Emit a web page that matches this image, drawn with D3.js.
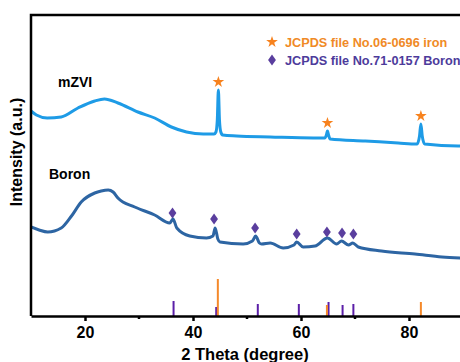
<!DOCTYPE html>
<html>
<head>
<meta charset="utf-8">
<script src="https://cdn.jsdelivr.net/npm/d3@7"></script>
<style>
    body { margin: 0; background: #fff; }
    text { font-family: Arial, "Liberation Sans", sans-serif; font-weight: bold; }
</style>
</head>
<body>
<svg id="chart" width="460" height="362"></svg>
<script>
// 2 theta (degree), intensity (a.u.)
const mzviTheta = [10, 11, 13, 15.6, 18.7, 21.8, 23.6, 26.1, 29.8, 32.9, 36, 38.8, 41.9, 43.9, 44.25, 44.5, 44.7, 44.9, 45.15, 45.5,
    48.1, 54.3, 62.3, 64.4, 64.7, 64.9, 65.1, 65.4, 71.9, 78, 81.5, 81.95, 82.2, 82.45, 82.9, 89.1, 90];
const mzviInt = [205, 201, 198, 199, 208, 215, 217, 213, 204, 198, 189, 184, 182, 182, 184, 196, 226, 196, 184, 181,
    180, 179, 178, 178, 181, 185, 181, 177, 175, 173, 172, 180, 192, 180, 172, 170, 170];

const boronTheta = [10, 11.5, 13.1, 15.6, 17.5, 19.3, 21.8, 23, 24.3, 25.2, 26.1, 29.2, 32.9, 35.7, 36.3, 37, 39.4, 42.5, 43.7, 44.1, 44.6, 45,
    49.3, 51, 51.6, 52.3, 52.7, 54.3, 56.7, 58.7, 59.2, 60.4, 62.6, 64.9, 66.6, 67.5, 68.8, 69.6, 70.6, 74.9, 81.1, 86.1, 90];
const boronInt = [89, 86, 84, 88, 100, 114, 123, 125, 126, 124, 118, 109, 101, 93, 97, 88, 80, 78, 80, 88, 77, 74,
    72, 75, 80, 73, 72, 73, 68, 71, 74, 69, 70, 78, 72, 75, 71, 73, 69, 65, 62, 59, 58];

// marker positions
const starTheta = [44.7, 64.9, 82.2];
const starInt = [234, 193, 200];
const diamondTheta = [36.2, 43.9, 51.5, 59.2, 64.8, 67.6, 69.7];
const diamondInt = [103, 97, 88, 82, 84, 83, 82];

// reference sticks
const ironTheta = [44.6, 64.8, 82.2];
const ironInt = [37, 11, 14];
const boronRefTheta = [36.4, 44.3, 52, 59.6, 65.1, 67.7, 69.7];
const boronRefInt = [15, 9, 12, 12, 14, 11, 12];

const xTicks = [20, 40, 60, 80];
const xMinor = [30, 50, 70];
const legendLabels = ["JCPDS file No.06-0696 iron", "JCPDS file No.71-0157 Boron"];

let svg = d3.select("#chart");
let mLeft = 31, mTop = 15, mBottom = 316, mRight = 463;

let x = d3.scaleLinear().domain([10, 90]).range([mLeft, mRight]);
let y = d3.scaleLinear().domain([0, 301]).range([mBottom, mTop]);

svg.append("defs").append("clipPath").attr("id", "clip")
    .append("rect").attr("x", mLeft).attr("y", mTop).attr("width", mRight - mLeft).attr("height", mBottom - mTop);

let plot = svg.append("g").attr("clip-path", "url(#clip)");

let line = d3.line()
    .x(d => x(d[0]))
    .y(d => y(d[1]))
    .curve(d3.curveMonotoneX);

// curves
plot.append("path")
    .datum(d3.zip(mzviTheta, mzviInt))
    .attr("d", line)
    .attr("fill", "none")
    .attr("stroke", "#1e9be6")
    .attr("stroke-width", 3)
    .attr("stroke-linejoin", "round");

plot.append("path")
    .datum(d3.zip(boronTheta, boronInt))
    .attr("d", line)
    .attr("fill", "none")
    .attr("stroke", "#2d65a3")
    .attr("stroke-width", 3)
    .attr("stroke-linejoin", "round");

// reference sticks
plot.append("g").selectAll("line")
    .data(d3.zip(boronRefTheta, boronRefInt))
    .enter().append("line")
    .attr("x1", d => x(d[0])).attr("x2", d => x(d[0]))
    .attr("y1", y(0)).attr("y2", d => y(d[1]))
    .attr("stroke", "#5b1fa8")
    .attr("stroke-width", 2);

plot.append("g").selectAll("line")
    .data(d3.zip(ironTheta, ironInt))
    .enter().append("line")
    .attr("x1", d => x(d[0])).attr("x2", d => x(d[0]))
    .attr("y1", y(0)).attr("y2", d => y(d[1]))
    .attr("stroke", "#f5892a")
    .attr("stroke-width", 2);

// markers
let star = d3.symbol().type(d3.symbolStar).size(42);
let diamond = d3.symbol().type(d3.symbolDiamond).size(34);

svg.append("g").selectAll("path")
    .data(d3.zip(starTheta, starInt))
    .enter().append("path")
    .attr("d", star)
    .attr("transform", d => "translate(" + x(d[0]) + "," + y(d[1]) + ")")
    .attr("fill", "#f7821e");

svg.append("g").selectAll("path")
    .data(d3.zip(diamondTheta, diamondInt))
    .enter().append("path")
    .attr("d", diamond)
    .attr("transform", d => "translate(" + x(d[0]) + "," + y(d[1]) + ") scale(1.25,1)")
    .attr("fill", "#5a3e9e");

// frame
svg.append("path")
    .attr("d", "M" + mLeft + "," + mBottom + "V" + mTop + "H" + mRight)
    .attr("fill", "none")
    .attr("stroke", "#000")
    .attr("stroke-width", 2.5);

// x axis
let xAxis = svg.append("g")
    .attr("transform", "translate(0," + mBottom + ")")
    .call(d3.axisBottom(x).tickValues(xTicks).tickSize(5).tickSizeOuter(0).tickPadding(6));
xAxis.select(".domain").attr("stroke-width", 2.5);
xAxis.selectAll(".tick line").attr("stroke-width", 2.5);
xAxis.selectAll(".tick text")
    .attr("font-size", 16)
    .attr("font-family", "Arial, 'Liberation Sans', sans-serif")
    .attr("font-weight", "bold")
    .attr("fill", "#000");

svg.append("g").selectAll("line")
    .data(xMinor)
    .enter().append("line")
    .attr("x1", d => x(d)).attr("x2", d => x(d))
    .attr("y1", mBottom).attr("y2", mBottom + 3)
    .attr("stroke", "#000")
    .attr("stroke-width", 2.5);

// axis titles
svg.append("text")
    .attr("x", 245).attr("y", 360)
    .attr("text-anchor", "middle")
    .attr("font-size", 16.5)
    .text("2 Theta (degree)");

svg.append("text")
    .attr("transform", "translate(22,152) rotate(-90)")
    .attr("text-anchor", "middle")
    .attr("font-size", 16)
    .text("Intensity (a.u.)");

// sample labels
svg.append("text").attr("x", 58).attr("y", 87).attr("font-size", 14).text("mZVI");
svg.append("text").attr("x", 49).attr("y", 179).attr("font-size", 14).text("Boron");

// legend
let legend = svg.append("g");
legend.append("path").attr("d", star).attr("transform", "translate(272,42)").attr("fill", "#f7821e");
legend.append("path").attr("d", diamond).attr("transform", "translate(272,60) scale(1.25,1)").attr("fill", "#5a3e9e");
legend.append("text").attr("x", 285).attr("y", 46.5).attr("font-size", 12.7).attr("fill", "#f08a26").text(legendLabels[0]);
legend.append("text").attr("x", 285).attr("y", 64.5).attr("font-size", 12.7).attr("fill", "#4d3b9b").text(legendLabels[1]);
</script>
</body>
</html>
